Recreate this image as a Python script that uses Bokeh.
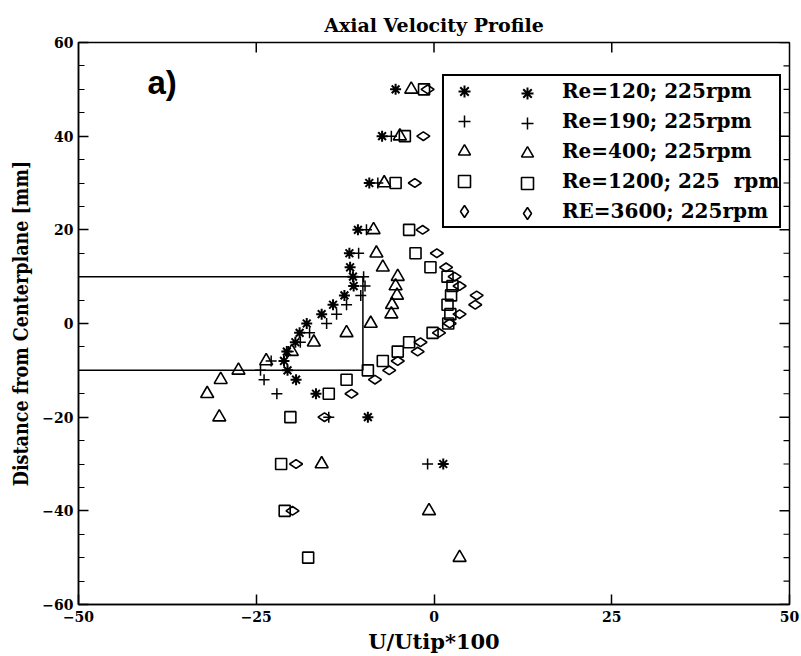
from bokeh.plotting import figure
from bokeh.models import Legend, LegendItem, Label, FixedTicker, Range1d
from bokeh.embed import file_html
from bokeh.resources import INLINE

# ---------------- data ----------------
title_text = "Axial Velocity Profile"
x_label = "U/Utip*100"
y_label = "Distance from Centerplane [mm]"

x_ticks = [-50, -25, 0, 25, 50]
x_top_ticks = [-25, 0, 25]
y_ticks = [-60, -40, -20, 0, 20, 40, 60]
y_minor = [t for t in range(-60, 61, 5) if t not in y_ticks]

labels = ["Re=120; 225rpm", "Re=190; 225rpm", "Re=400; 225rpm",
          "Re=1200; 225  rpm", "RE=3600; 225rpm"]

re120_y = [50, 40, 30, 20, 15, 12, 10, 8, 6, 4, 2, 0, -2, -4, -6, -8, -10, -12, -15, -20, -30]
re120_x = [-5.4, -7.3, -9.1, -10.7, -11.9, -11.8, -11.4, -11.3, -12.6, -14.2, -15.8, -17.9,
           -18.9, -19.5, -20.7, -21.1, -20.6, -19.4, -16.6, -9.3, 1.3]

re190_y = [40, 30, 20, 15, 10, 8, 6, 4, 2, 0, -2, -4, -6, -8, -10, -12, -15, -20, -30]
re190_x = [-6.0, -7.9, -9.5, -10.6, -9.9, -9.7, -10.3, -12.3, -13.7, -15.1, -17.5, -18.8,
           -20.5, -22.9, -24.4, -23.9, -22.1, -14.8, -0.9]

re400_y = [50, 40, 30, 20, 15, 12, 10, 8, 6, 4, 2, 0, -2, -4, -6, -8, -10, -12, -15, -20, -30, -40, -50]
re400_x = [-3.2, -4.8, -7.0, -8.5, -8.1, -7.2, -5.1, -5.4, -5.2, -5.9, -6.0, -8.9, -12.3,
           -16.9, -20.0, -23.6, -27.5, -30.0, -31.9, -30.2, -15.8, -0.7, 3.6]

re1200_y = [50, 40, 30, 20, 15, 12, 10, 8, 6, 4, 2, 0, -2, -4, -6, -8, -10, -12, -15, -20, -30, -40, -50]
re1200_x = [-1.4, -4.1, -5.4, -3.5, -2.6, -0.5, 1.9, 2.6, 2.4, 1.9, 2.3, 2.0, -0.2, -3.5,
            -5.1, -7.2, -9.3, -12.3, -14.8, -20.2, -21.5, -21.0, -17.7]

re3600_y = [50, 40, 30, 20, 15, 12, 10, 8, 6, 4, 2, 0, -2, -4, -6, -8, -10, -12, -15, -20, -30, -40]
re3600_x = [-0.9, -1.5, -2.7, -1.6, 0.4, 1.7, 2.9, 3.6, 6.0, 5.8, 3.6, 2.2, 0.7, -1.9, -2.3,
            -5.1, -6.3, -8.3, -11.6, -15.4, -19.4, -19.9]

# region outline (impeller zone)
box_x = [-50, -10, -10, -50]
box_y = [10, 10, -10, -10]

X_MIN, X_MAX, Y_MIN, Y_MAX = -50, 50, -60, 60

# ---------------- figure ----------------
W, H = 801, 656
BL, BR, BT, BB = 78, 12, 42, 52
p = figure(width=W, height=H, x_range=Range1d(X_MIN, X_MAX), y_range=Range1d(Y_MIN, Y_MAX),
           output_backend="svg", toolbar_location=None,
           min_border_left=BL, min_border_right=BR, min_border_top=BT, min_border_bottom=BB)
p.background_fill_color = "white"
p.border_fill_color = "white"
p.outline_line_color = "black"
p.outline_line_width = 1.5
p.xgrid.visible = False
p.ygrid.visible = False

p.title.text = title_text
p.title.align = "center"
p.title.text_font = "DejaVu Serif"
p.title.text_font_style = "bold"
p.title.text_font_size = "19px"
p.title.text_color = "black"
p.title.standoff = 14

tick_font = "DejaVu Serif"
for ax in p.xaxis:
    ax.ticker = FixedTicker(ticks=x_ticks, minor_ticks=[])
    ax.axis_label = x_label
for ax in p.yaxis:
    ax.ticker = FixedTicker(ticks=y_ticks, minor_ticks=y_minor)
    ax.axis_label = y_label
for ax in list(p.xaxis) + list(p.yaxis):
    ax.major_tick_in = 10
    ax.major_tick_out = 0
    ax.minor_tick_in = 6
    ax.minor_tick_out = 0
    ax.axis_line_color = "black"
    ax.axis_line_width = 1.5
    ax.major_tick_line_color = "black"
    ax.major_tick_line_width = 1.5
    ax.minor_tick_line_color = "black"
    ax.minor_tick_line_width = 1.2
    ax.major_label_text_font = tick_font
    ax.major_label_text_font_style = "bold"
    ax.major_label_text_font_size = "14px"
    ax.major_label_text_color = "black"
    ax.axis_label_text_color = "black"
    ax.axis_label_text_font_style = "bold"
p.xaxis.axis_label_text_font = "DejaVu Serif"
p.xaxis.axis_label_text_font_size = "21px"
p.xaxis.axis_label_standoff = 4
p.xaxis.major_label_standoff = 6
p.yaxis.axis_label_text_font = "DejaVu Serif Condensed"
p.yaxis.axis_label_text_font_size = "19.5px"
p.yaxis.axis_label_standoff = 6

# mirrored inward ticks on the right and top frame edges
px_per_x = (W - BL - BR) / (X_MAX - X_MIN)
px_per_y = (H - BT - BB) / (Y_MAX - Y_MIN)
maj_dx, min_dx = 10 / px_per_x, 6 / px_per_x
maj_dy = 10 / px_per_y
p.segment(x0=[X_MAX] * len(y_ticks), y0=y_ticks, x1=[X_MAX - maj_dx] * len(y_ticks), y1=y_ticks,
          line_color="black", line_width=1.5)
p.segment(x0=[X_MAX] * len(y_minor), y0=y_minor, x1=[X_MAX - min_dx] * len(y_minor), y1=y_minor,
          line_color="black", line_width=1.2)
p.segment(x0=x_top_ticks, y0=[Y_MAX] * len(x_top_ticks), x1=x_top_ticks,
          y1=[Y_MAX - maj_dy] * len(x_top_ticks), line_color="black", line_width=1.5)

# ---------------- data marks ----------------
p.line(box_x, box_y, line_color="black", line_width=1.5)

r1 = p.scatter(re120_x, re120_y, marker="asterisk", size=11, line_color="black", line_width=2)
r2 = p.scatter(re190_x, re190_y, marker="cross", size=11, line_color="black", line_width=1.5)
r3 = p.scatter(re400_x, re400_y, marker="triangle", size=13, line_color="black",
               line_width=1.6, fill_color=None)
r4 = p.scatter(re1200_x, re1200_y, marker="square", size=11, line_color="black",
               line_width=1.6, fill_color=None)
r5 = p.scatter(re3600_x, re3600_y, marker="diamond", size=13, angle=1.5708,
               line_color="black", line_width=1.6, fill_color=None)
renderers = [r1, r2, r3, r4, r5]

p.add_layout(Label(x=-40.3, y=51.5, text="a)", text_font="Liberation Sans", text_font_style="bold",
                   text_font_size="33px", text_baseline="middle", text_color="black"))

# ---------------- legend (two marker columns) ----------------
leg_a = Legend(items=[LegendItem(label=lab, renderers=[r]) for lab, r in zip(labels, renderers)],
               location=(364, 376), glyph_width=40, glyph_height=30, label_height=30,
               spacing=0, padding=0, margin=0, label_standoff=78,
               border_line_color="black", border_line_width=2.5, border_line_alpha=1.0,
               background_fill_color="white", background_fill_alpha=1.0,
               label_text_font="DejaVu Serif", label_text_font_style="bold",
               label_text_font_size="20px", label_text_color="black")
leg_b = Legend(items=[LegendItem(label=" ", renderers=[r]) for r in renderers],
               location=(429, 376), glyph_width=40, glyph_height=30, label_height=30,
               spacing=0, padding=0, margin=0, label_standoff=0,
               border_line_color=None, background_fill_alpha=0.0,
               label_text_font_size="20px")
p.add_layout(leg_a, "center")
p.add_layout(leg_b, "center")

open("out.html", "w").write(file_html(p, INLINE))
